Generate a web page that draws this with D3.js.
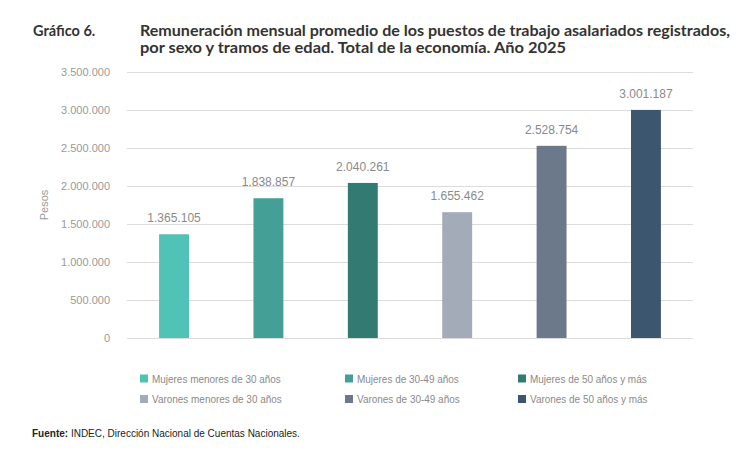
<!DOCTYPE html>
<html>
<head>
<meta charset="utf-8">
<script src="https://cdn.jsdelivr.net/npm/d3@7"></script>
<style>
  body { margin: 0; background: #fff; }
  svg { display: block; }
</style>
</head>
<body>
<svg id="chart"></svg>
<script>
// Data
const categories = [
  'Mujeres menores de 30 años',
  'Mujeres de 30-49 años',
  'Mujeres de 50 años y más',
  'Varones menores de 30 años',
  'Varones de 30-49 años',
  'Varones de 50 años y más'
];
const values = [1365105, 1838857, 2040261, 1655462, 2528754, 3001187];
const colors = ['#50c3b6', '#449f97', '#337b72', '#a3aab8', '#6b798a', '#3c5670'];
const yTicks = [0, 500000, 1000000, 1500000, 2000000, 2500000, 3000000, 3500000];

const W = 748, H = 456;
const plot = { left: 127, right: 693, top: 72, bottom: 338 };

const locale = d3.formatLocale({ decimal: ',', thousands: '.', grouping: [3], currency: ['$', ''] });
const fmt = locale.format(',d');

const svg = d3.select('#chart').attr('width', W).attr('height', H);

// Title
const titleFont = 'Lato, "Open Sans", sans-serif';
svg.append('text')
  .attr('x', 33).attr('y', 36)
  .style('font-family', titleFont).style('font-weight', 700)
  .style('font-size', '14.5px').style('fill', '#333')
  .text('Gráfico 6.');
svg.append('text')
  .attr('x', 140).attr('y', 36)
  .attr('textLength', 590).attr('lengthAdjust', 'spacingAndGlyphs')
  .style('font-family', titleFont).style('font-weight', 700)
  .style('font-size', '14.5px').style('fill', '#333')
  .text('Remuneración mensual promedio de los puestos de trabajo asalariados registrados,');
svg.append('text')
  .attr('x', 140).attr('y', 53)
  .attr('textLength', 426).attr('lengthAdjust', 'spacingAndGlyphs')
  .style('font-family', titleFont).style('font-weight', 700)
  .style('font-size', '14.5px').style('fill', '#333')
  .text('por sexo y tramos de edad. Total de la economía. Año 2025');

// Scales
const x = d3.scaleBand()
  .domain(categories)
  .range([plot.left, plot.right])
  .paddingInner(0.683)
  .paddingOuter(0.34);

const y = d3.scaleLinear()
  .domain([0, 3500000])
  .range([plot.bottom, plot.top]);

// Y axis with gridlines
const yAxis = svg.append('g')
  .attr('transform', `translate(${plot.left},0)`)
  .call(d3.axisLeft(y)
    .tickValues(yTicks)
    .tickFormat(fmt)
    .tickSize(-(plot.right - plot.left))
    .tickPadding(17));
yAxis.select('.domain').remove();
yAxis.selectAll('line').attr('stroke', '#dcdcdc');
yAxis.selectAll('text')
  .style('font-family', '"Liberation Sans", Arial, sans-serif')
  .style('font-size', '11px')
  .style('fill', '#9a9a9a');

// Y label
svg.append('text')
  .attr('transform', 'translate(48,205) rotate(-90)')
  .attr('text-anchor', 'middle')
  .style('font-family', '"Liberation Sans", Arial, sans-serif')
  .style('font-size', '11px')
  .style('fill', '#9a9a9a')
  .text('Pesos');

// Bars
svg.selectAll('rect.bar')
  .data(values)
  .enter()
  .append('rect')
  .attr('class', 'bar')
  .attr('x', (d, i) => x(categories[i]))
  .attr('y', d => y(d))
  .attr('width', x.bandwidth())
  .attr('height', d => y(0) - y(d))
  .attr('fill', (d, i) => colors[i]);

// Value labels
svg.selectAll('text.val')
  .data(values)
  .enter()
  .append('text')
  .attr('class', 'val')
  .attr('x', (d, i) => x(categories[i]) + x.bandwidth() / 2)
  .attr('y', d => y(d) - 12)
  .attr('text-anchor', 'middle')
  .style('font-family', '"Liberation Sans", Arial, sans-serif')
  .style('font-size', '12px')
  .style('fill', '#8a8a8a')
  .text(d => fmt(d));

// Legend (3 columns, women on first row, men on second)
const legendCols = [140, 345, 518];
const legendRows = [378.5, 399];
const legend = svg.selectAll('g.leg')
  .data(categories)
  .enter()
  .append('g')
  .attr('class', 'leg')
  .attr('transform', (d, i) => `translate(${legendCols[i % 3]},${legendRows[Math.floor(i / 3)]})`);
legend.append('rect')
  .attr('x', 0).attr('y', -4)
  .attr('width', 8).attr('height', 8)
  .attr('fill', (d, i) => colors[i]);
legend.append('text')
  .attr('x', 12).attr('y', 4)
  .style('font-family', '"Liberation Sans", Arial, sans-serif')
  .style('font-size', '11.5px')
  .style('fill', '#8a8a8a')
  .text(d => d)
  // the original legend uses a condensed face: squeeze the glyphs
  .each(function () {
    const w = this.getComputedTextLength();
    d3.select(this).attr('textLength', w * 0.865).attr('lengthAdjust', 'spacingAndGlyphs');
  });

// Source
const src = svg.append('text')
  .attr('x', 32).attr('y', 437)
  .style('font-family', '"Liberation Sans", Arial, sans-serif')
  .style('font-size', '10px')
  .style('fill', '#222');
src.append('tspan').style('font-weight', 700).text('Fuente:');
src.append('tspan').text(' INDEC, Dirección Nacional de Cuentas Nacionales.');
</script>
</body>
</html>
